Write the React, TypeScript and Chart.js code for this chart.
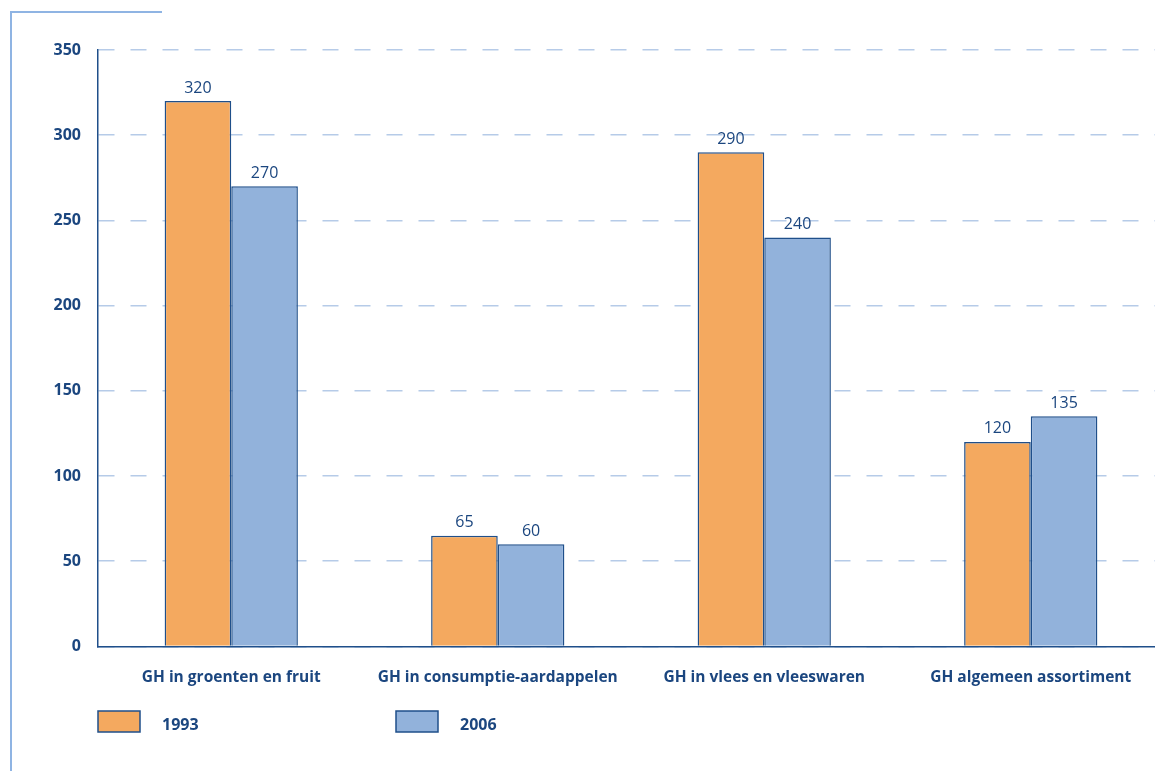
import React, { useEffect, useRef } from "react";
import { Chart, registerables } from "chart.js";

Chart.register(...registerables);

const categories = [
  "GH in groenten en fruit",
  "GH in consumptie-aardappelen",
  "GH in vlees en vleeswaren",
  "GH algemeen assortiment",
];
const series1993 = [320, 65, 290, 120];
const series2006 = [270, 60, 240, 135];
const seriesLabels = ["1993", "2006"];
const yTicksMax = 350;
const yTickStep = 50;

const TEXT = "#1b467f";
const FONT = "'Open Sans', 'Noto Sans', sans-serif";

const valueLabels = {
  id: "valueLabels",
  afterDatasetsDraw(chart: any) {
    const ctx = chart.ctx;
    ctx.save();
    ctx.fillStyle = TEXT;
    ctx.font = `400 16px ${FONT}`;
    ctx.textAlign = "center";
    ctx.textBaseline = "bottom";
    chart.data.datasets.forEach((ds: any, i: number) => {
      const meta = chart.getDatasetMeta(i);
      meta.data.forEach((bar: any, j: number) => {
        ctx.fillText(String(ds.data[j]), bar.x, bar.y - 5);
      });
    });
    ctx.restore();
  },
};

const customLegend = {
  id: "customLegend",
  afterDraw(chart: any) {
    const ctx = chart.ctx;
    const area = chart.chartArea;
    ctx.save();
    const y = 711;
    chart.data.datasets.forEach((ds: any, i: number) => {
      const x = area.left + i * 298;
      ctx.fillStyle = ds.backgroundColor;
      ctx.fillRect(x, y, 42, 21);
      ctx.strokeStyle = ds.borderColor;
      ctx.lineWidth = 1.5;
      ctx.strokeRect(x, y, 42, 21);
      ctx.fillStyle = TEXT;
      ctx.font = `700 16px ${FONT}`;
      ctx.textAlign = "left";
      ctx.textBaseline = "middle";
      ctx.fillText(ds.label, x + 64, y + 14);
    });
    ctx.restore();
  },
};

export default function App() {
  const ref = useRef<HTMLCanvasElement>(null);
  useEffect(() => {
    document.body.style.margin = "0";
    const chart = new Chart(ref.current!, {
      type: "bar",
      data: {
        labels: categories,
        datasets: [
          {
            label: seriesLabels[0],
            data: series1993,
            backgroundColor: "#f4a95f",
            borderColor: "#1f4f8a",
            borderWidth: 1.5,
            categoryPercentage: 0.5,
            barPercentage: 1,
          },
          {
            label: seriesLabels[1],
            data: series2006,
            backgroundColor: "#92b2db",
            borderColor: "#1f4f8a",
            borderWidth: 1.5,
            categoryPercentage: 0.5,
            barPercentage: 1,
          },
        ],
      },
      options: {
        animation: false,
        responsive: false,
        layout: { padding: { top: 50, right: 0, left: 0, bottom: 70 } },
        plugins: { legend: { display: false }, tooltip: { enabled: false } },
        scales: {
          x: {
            grid: { display: false },
            border: { display: true, color: "#1f4f8a", width: 1.5 },
            ticks: {
              color: TEXT,
              font: { family: FONT, size: 15.5, weight: "bold" },
              padding: 14,
              maxRotation: 0,
            },
          },
          y: {
            min: 0,
            max: yTicksMax,
            afterFit(scale: any) {
              scale.width = 98;
            },
            grid: {
              color: "#b6cbe8",
              lineWidth: 1.5,
              drawTicks: false,
            },
            border: { display: true, color: "#1f4f8a", width: 1.5, dash: [16, 16] },
            ticks: {
              stepSize: yTickStep,
              color: TEXT,
              font: { family: FONT, size: 16, weight: "bold" },
              padding: 17,
            },
          },
        },
      },
      plugins: [valueLabels, customLegend],
    });
    return () => chart.destroy();
  }, []);
  return (
    <div style={{ position: "relative", width: 1155, height: 771, overflow: "hidden" }}>
      <div
        style={{
          position: "absolute",
          left: 10,
          top: 11,
          width: 150,
          height: 760,
          borderLeft: "2px solid #8fb4e3",
          borderTop: "2px solid #8fb4e3",
        }}
      />
      <canvas ref={ref} width={1164} height={771} style={{ position: "absolute", left: 0, top: 0 }} />
    </div>
  );
}
